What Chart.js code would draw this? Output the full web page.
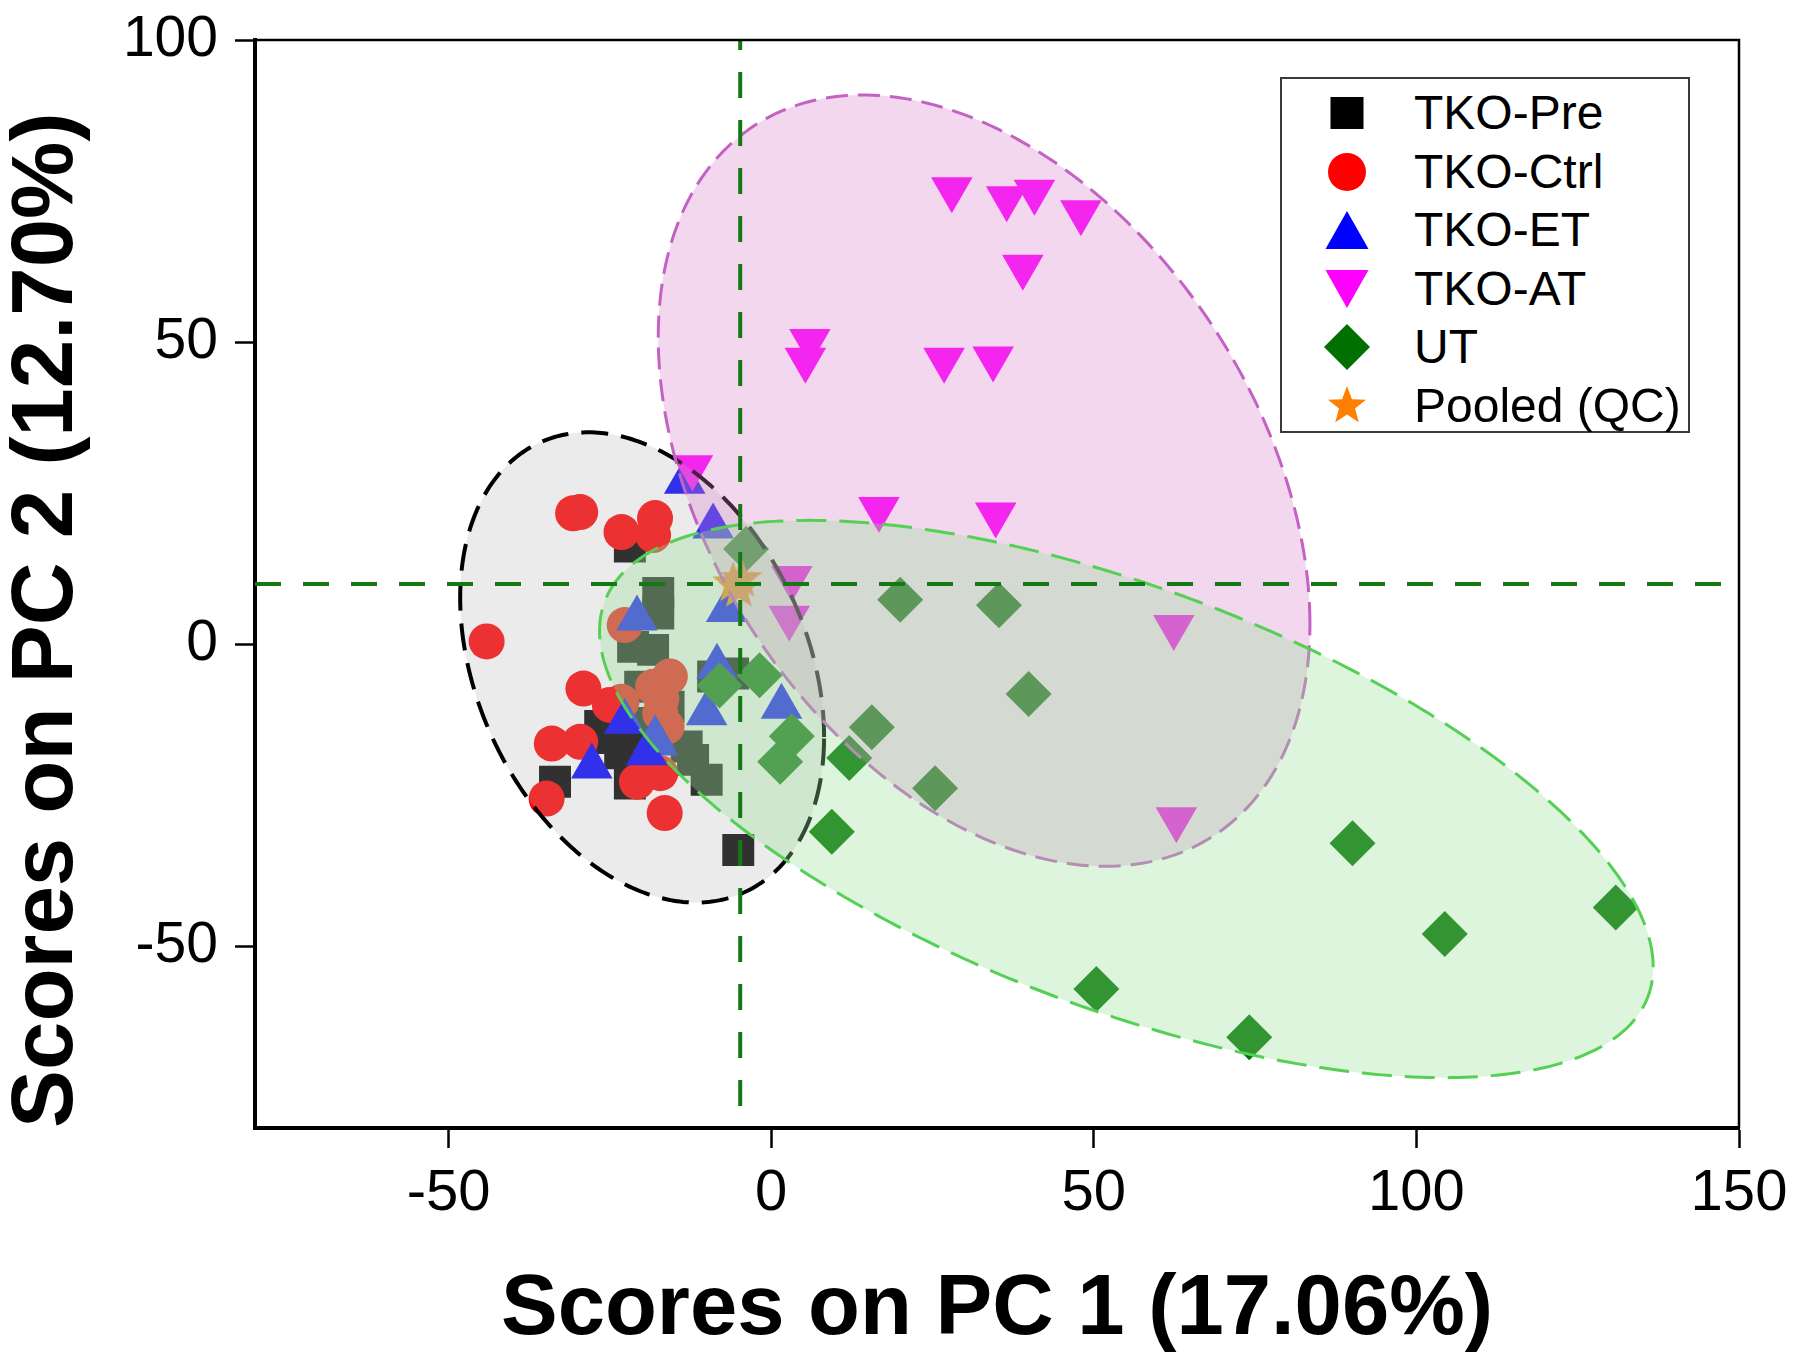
<!DOCTYPE html>
<html>
<head>
<meta charset="utf-8">
<script src="https://cdn.jsdelivr.net/npm/chart.js@4.4.1/dist/chart.umd.min.js"></script>
<style>
  html, body { margin: 0; padding: 0; background: #fff; }
  #wrap { position: relative; width: 1800px; height: 1370px; }
  #legend {
    position: absolute; left: 1280px; top: 77px; width: 406px; height: 352px;
    border: 2px solid #3a3a3a; background: #fff;
    font-family: 'Liberation Sans', Arial, sans-serif; font-size: 48px; color: #000;
  }
  .lrow { position: absolute; left: 0; height: 58px; width: 100%; }
  .lrow canvas { position: absolute; left: 40px; top: 4px; }
  .lrow span { position: absolute; left: 132px; top: 0; line-height: 58px; white-space: nowrap; }
</style>
</head>
<body>
<div id="wrap">
  <canvas id="c" width="1800" height="1370"></canvas>
  <div id="legend"></div>
</div>
<script>
// ---------------- data ----------------
const seriesNames = ['TKO-Pre', 'TKO-Ctrl', 'TKO-ET', 'TKO-AT', 'UT', 'Pooled (QC)'];

const tkoPreX = [-21.9, -17.5, -17.5, -21.4, -18.3, -20.3, -15.9, -24.7, -22.4, -23.4, -33.5, -21.9, -13.1, -12.1, -10.0, -9.0, -5.9, -5.1, -26.5, -19.5];
const tkoPreY = [16.2, 8.5, 5.1, -0.4, -0.9, -7.0, -10.3, -15.5, -16.4, -18.0, -22.7, -23.0, -16.9, -19.1, -22.4, -5.3, -4.8, -34.0, -13.5, -13.0];

const tkoCtrlX = [-30.7, -29.6, -23.2, -18.0, -18.3, -44.1, -29.1, -25.0, -34.0, -29.6, -34.8, -20.8, -17.2, -16.5, -22.7, -15.7, -18.3, -17.2, -23.2, -16.2, -17.0];
const tkoCtrlY = [21.7, 21.9, 18.6, 20.9, 18.1, 0.5, -7.3, -10.0, -16.4, -16.1, -25.5, -22.7, -21.3, -27.9, 3.2, -5.3, -7.0, -11.4, -9.5, -13.6, -9.0];

const tkoEtX = [-13.4, -9.0, -20.8, -6.9, -8.4, -10.0, 1.6, -22.7, -19.3, -27.8, -17.7, -18.0];
const tkoEtY = [26.9, 19.5, 4.3, 5.7, -3.7, -11.4, -10.3, -12.8, -18.0, -20.2, -16.4, -15.5];

const tkoAtX = [28.0, 36.5, 40.8, 48.0, 39.0, 6.0, 5.3, 26.8, 34.4, -12.2, 16.7, 34.8, 3.2, 2.8, 62.4, 62.8];
const tkoAtY = [75.3, 73.8, 74.9, 71.5, 62.5, 50.2, 47.1, 47.1, 47.3, 29.3, 22.4, 21.5, 11.0, 4.4, 2.9, -28.9];

const utX = [-3.9, 20.0, 35.3, -8.0, -1.8, 39.9, 15.6, 3.2, 1.4, 12.1, 25.4, 9.4, 90.1, 130.9, 104.4, 50.4, 74.1];
const utY = [15.8, 7.4, 6.5, -6.8, -5.1, -8.2, -13.7, -15.2, -19.4, -18.8, -23.8, -31.0, -32.9, -43.5, -47.9, -57.0, -65.0];

const qcX = [-5.9, -5.0, -4.6];
const qcY = [10.1, 9.2, 10.8];

// confidence ellipses (data units): centre, half-extents, correlation
const ellipseCx  = [-20.0, 33.0, 55.05];
const ellipseCy  = [-3.8, 27.1, -25.57];
const ellipseRx  = [28.2, 50.5, 81.65];
const ellipseRy  = [38.9, 63.8, 46.1];
const ellipseRho = [-0.296, -0.372, -0.603];

// reference (dashed) lines
const refLineX = -4.8;
const refLineY = 10;

// axis ranges and ticks
const xMin = -80, xMax = 150;
const yMin = -80, yMax = 100;
const xTicks = [-50, 0, 50, 100, 150];
const yTicks = [-50, 0, 50, 100];

// ---------------- styles ----------------
const FONT = "'Liberation Sans', Arial, Helvetica, sans-serif";
const seriesColors = ['#000000', '#ff0000', '#0000ff', '#ff00ff', '#007000', '#ff7f00'];
const ellipseFill   = ['rgba(180,180,180,0.27)', 'rgba(215,122,198,0.30)', 'rgba(150,226,150,0.333)'];
const ellipseStroke = ['#000000', '#c462c4', '#55d055'];
const ellipseDash   = [[27, 13], [22, 10], [30, 13]];
const ellipseWidth  = [4, 3, 3];

function makeStar(r, color) {
  const c = document.createElement('canvas');
  c.width = c.height = Math.ceil(2 * r + 2);
  const g = c.getContext('2d');
  g.translate(c.width / 2, c.height / 2);
  g.beginPath();
  for (let i = 0; i < 10; i++) {
    const rr = i % 2 ? r * 0.42 : r;
    const a = -Math.PI / 2 + i * Math.PI / 5;
    g.lineTo(rr * Math.cos(a), rr * Math.sin(a));
  }
  g.closePath();
  g.fillStyle = color;
  g.fill();
  return c;
}

const zip = (xs, ys) => xs.map((x, i) => ({ x, y: ys[i] }));

function pointSet(idx, xs, ys, style, radius, rotation, order) {
  return {
    label: seriesNames[idx],
    data: zip(xs, ys),
    pointStyle: style,
    pointRadius: radius,
    pointHoverRadius: radius,
    pointRotation: rotation,
    backgroundColor: seriesColors[idx],
    borderColor: seriesColors[idx],
    borderWidth: 0,
    order: order
  };
}

const starImg = makeStar(22, seriesColors[5]);

const datasets = [
  pointSet(0, tkoPreX, tkoPreY, 'rect', 22.6, 0, 6),
  pointSet(1, tkoCtrlX, tkoCtrlY, 'circle', 18, 0, 5),
  pointSet(2, tkoEtX, tkoEtY, 'triangle', 24, 0, 4),
  pointSet(3, tkoAtX, tkoAtY, 'triangle', 24, 180, 3),
  pointSet(4, utX, utY, 'rectRot', 23, 0, 2),
  pointSet(5, qcX, qcY, starImg, 22, 0, 1),
  {
    label: 'refV', data: [{ x: refLineX, y: yMax }, { x: refLineX, y: yMin }],
    showLine: true, borderColor: '#137a13', borderWidth: 4, borderDash: [26, 22], borderDashOffset: -32,
    pointRadius: 0, pointHoverRadius: 0, fill: false, order: 0
  },
  {
    label: 'refH', data: [{ x: xMin, y: refLineY }, { x: xMax, y: refLineY }],
    showLine: true, borderColor: '#137a13', borderWidth: 4, borderDash: [26, 22],
    pointRadius: 0, pointHoverRadius: 0, fill: false, order: 0
  }
];

const ellipsePlugin = {
  id: 'ellipses',
  afterDatasetDraw(chart, args) {
    if (chart.data.datasets[args.index].label !== seriesNames[5]) return;
    const { ctx, chartArea: a, scales: { x, y } } = chart;
    ctx.save();
    ctx.beginPath();
    ctx.rect(a.left, a.top, a.right - a.left, a.bottom - a.top);
    ctx.clip();
    for (let e = 0; e < ellipseCx.length; e++) {
      const s = Math.sqrt(1 - ellipseRho[e] * ellipseRho[e]);
      ctx.beginPath();
      const N = 360;
      for (let k = 0; k <= N; k++) {
        const t = (k / N) * 2 * Math.PI;
        const dx = ellipseCx[e] + ellipseRx[e] * Math.cos(t);
        const dy = ellipseCy[e] + ellipseRy[e] * (ellipseRho[e] * Math.cos(t) + s * Math.sin(t));
        const px = x.getPixelForValue(dx), py = y.getPixelForValue(dy);
        if (k === 0) ctx.moveTo(px, py); else ctx.lineTo(px, py);
      }
      ctx.closePath();
      ctx.fillStyle = ellipseFill[e];
      ctx.fill();
      ctx.setLineDash(ellipseDash[e]);
      ctx.lineWidth = ellipseWidth[e];
      ctx.strokeStyle = ellipseStroke[e];
      ctx.stroke();
    }
    ctx.restore();
  },
  afterDraw(chart) {
    const { ctx, chartArea: a } = chart;
    ctx.save();
    ctx.strokeStyle = '#000';
    ctx.lineWidth = 2.5;
    ctx.setLineDash([]);
    ctx.beginPath();
    ctx.moveTo(a.left, a.top);
    ctx.lineTo(a.right, a.top);
    ctx.lineTo(a.right, a.bottom);
    ctx.stroke();
    ctx.restore();
  }
};

Chart.defaults.font.family = FONT;
Chart.defaults.color = '#000';

new Chart(document.getElementById('c'), {
  type: 'scatter',
  data: { datasets },
  plugins: [ellipsePlugin],
  options: {
    responsive: false,
    animation: false,
    events: [],
    layout: { padding: { top: 40, right: 61, left: 0, bottom: 0 } },
    plugins: { legend: { display: false }, tooltip: { enabled: false } },
    scales: {
      x: {
        type: 'linear', min: xMin, max: xMax,
        afterBuildTicks: (s) => { s.ticks = xTicks.map(v => ({ value: v })); },
        afterFit: (s) => { s.height = 242; s.paddingLeft = 0; s.paddingRight = 0; },
        ticks: { font: { size: 58 }, padding: 11, color: '#000', maxRotation: 0 },
        grid: { drawOnChartArea: false, drawTicks: true, tickLength: 20, tickWidth: 2.5, tickColor: '#000' },
        border: { display: true, width: 4, color: '#000' },
        title: { display: true, text: 'Scores on PC 1 (17.06%)', font: { size: 85, weight: 'bold' }, padding: { top: 0, bottom: 8 }, color: '#000' }
      },
      y: {
        type: 'linear', min: yMin, max: yMax,
        afterBuildTicks: (s) => { s.ticks = yTicks.map(v => ({ value: v })); },
        afterFit: (s) => { s.width = 255; s.paddingTop = 0; s.paddingBottom = 0; },
        ticks: { font: { size: 57 }, padding: 17, color: '#000' },
        grid: { drawOnChartArea: false, drawTicks: true, tickLength: 20, tickWidth: 2.5, tickColor: '#000' },
        border: { display: true, width: 4, color: '#000' },
        title: { display: true, text: 'Scores on PC 2 (12.70%)', align: 'start', font: { size: 87, weight: 'bold', lineHeight: 1 }, padding: { top: 5, bottom: 0 }, color: '#000' }
      }
    }
  }
});

// ---------------- HTML legend ----------------
function drawMarker(g, idx) {
  const c = seriesColors[idx];
  g.fillStyle = c;
  g.beginPath();
  if (idx === 0) { g.rect(25 - 16.5, 25 - 16, 33, 32); }
  else if (idx === 1) { g.arc(25, 25, 19, 0, 2 * Math.PI); }
  else if (idx === 2) { g.moveTo(25, 6); g.lineTo(46.5, 44); g.lineTo(3.5, 44); }
  else if (idx === 3) { g.moveTo(3.5, 6); g.lineTo(46.5, 6); g.lineTo(25, 44); }
  else if (idx === 4) { g.moveTo(25, 2); g.lineTo(48, 25); g.lineTo(25, 48); g.lineTo(2, 25); }
  else { g.drawImage(makeStar(20, c), 25 - 21, 25 - 21); return; }
  g.closePath();
  g.fill();
}
const legendEl = document.getElementById('legend');
const rowTops = [5, 63.5, 122, 180.5, 239, 297.5];
seriesNames.forEach((name, i) => {
  const row = document.createElement('div');
  row.className = 'lrow';
  row.style.top = rowTops[i] + 'px';
  const cv = document.createElement('canvas');
  cv.width = 50; cv.height = 50;
  drawMarker(cv.getContext('2d'), i);
  const sp = document.createElement('span');
  sp.textContent = name;
  row.appendChild(cv);
  row.appendChild(sp);
  legendEl.appendChild(row);
});
</script>
</body>
</html>
